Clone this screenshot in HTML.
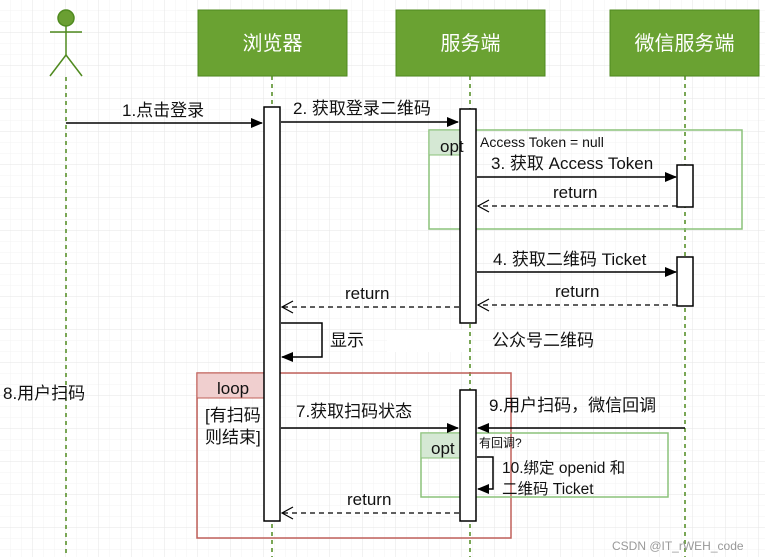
<!DOCTYPE html>
<html><head><meta charset="utf-8"><style>
html,body{margin:0;padding:0;background:#fff;}
svg{display:block;}
text{font-family:"Liberation Sans","Noto Sans CJK SC",sans-serif;fill:#111;}
</style></head><body>
<svg width="765" height="557" viewBox="0 0 765 557" xmlns="http://www.w3.org/2000/svg">
<defs>
<pattern id="minor" width="11" height="11" patternUnits="userSpaceOnUse"><path d="M11 0V11H0" fill="none" stroke="#f3f3f3" stroke-width="1"/></pattern>
<pattern id="major" width="33" height="33" patternUnits="userSpaceOnUse"><rect width="33" height="33" fill="url(#minor)"/><path d="M33 0V33H0" fill="none" stroke="#e5e5e5" stroke-width="1"/></pattern>
<marker id="af" markerWidth="12" markerHeight="10" refX="11" refY="5" orient="auto" markerUnits="userSpaceOnUse"><path d="M0,0L12,5L0,10z" fill="#000"/></marker>
<marker id="ao" markerWidth="13" markerHeight="14" refX="12" refY="7" orient="auto" markerUnits="userSpaceOnUse"><path d="M1,1L12,7L1,13" fill="none" stroke="#000" stroke-width="1.2"/></marker>
</defs>
<rect width="765" height="557" fill="url(#major)"/>

<g stroke="#4f8a1f" stroke-width="1.5" stroke-dasharray="4,4">
<line x1="66" y1="77" x2="66" y2="557"/>
<line x1="272" y1="76" x2="272" y2="557"/>
<line x1="470" y1="76" x2="470" y2="557"/>
<line x1="685" y1="76" x2="685" y2="557"/>
</g>

<g stroke="#4f8a1f" stroke-width="1.5" fill="none">
<circle cx="66" cy="18" r="8" fill="#6a9f32"/>
<line x1="66" y1="26" x2="66" y2="55"/>
<line x1="50" y1="32" x2="82" y2="32"/>
<line x1="66" y1="55" x2="50" y2="76"/>
<line x1="66" y1="55" x2="82" y2="76"/>
</g>

<g fill="#6aa232" stroke="#4f8a1f" stroke-width="1">
<rect x="198" y="10" width="149" height="66"/>
<rect x="396" y="10" width="149" height="66"/>
<rect x="610" y="10" width="149" height="66"/>
</g>
<g font-size="20" text-anchor="middle">
<text x="272.5" y="50" style="fill:#fff">浏览器</text>
<text x="470.5" y="50" style="fill:#fff">服务端</text>
<text x="684.5" y="50" style="fill:#fff">微信服务端</text>
</g>

<rect x="429" y="130" width="313" height="99" fill="none" stroke="#8bc27a" stroke-width="1.5"/>
<path d="M429,130H476L468,155H429z" fill="#d5e8d4" stroke="#8bc27a" stroke-width="1"/>
<text x="480" y="147" font-size="14">Access Token = null</text>

<rect x="197" y="373" width="314" height="165" fill="none" stroke="#c0605a" stroke-width="1.5"/>
<path d="M197,373H272L264,398H197z" fill="#f0cfcf" stroke="#c0605a" stroke-width="1"/>
<text x="205" y="421" font-size="17">[有扫码</text>
<text x="205" y="443" font-size="17">则结束]</text>

<rect x="421" y="433" width="247" height="64" fill="none" stroke="#8bc27a" stroke-width="1.5"/>
<path d="M421,433H470L462,458H421z" fill="#d5e8d4" stroke="#8bc27a" stroke-width="1"/>

<g fill="#fff" stroke="#000" stroke-width="1.5">
<rect x="264" y="107" width="16" height="414"/>
<rect x="460" y="109" width="16" height="214"/>
<rect x="460" y="390" width="16" height="131"/>
<rect x="677" y="165" width="16" height="42"/>
<rect x="677" y="257" width="16" height="49"/>
</g>

<text x="440" y="152" font-size="17">opt</text>
<text x="217" y="394" font-size="17">loop</text>
<text x="431" y="454" font-size="17">opt</text>
<text x="479" y="447" font-size="12">有回调?</text>

<g stroke="#000" stroke-width="1.5" fill="none">
<line x1="66" y1="123" x2="262" y2="123" marker-end="url(#af)"/>
<line x1="281" y1="122" x2="458" y2="122" marker-end="url(#af)"/>
<line x1="477" y1="177" x2="676" y2="177" marker-end="url(#af)"/>
<line x1="677" y1="206" x2="478" y2="206" stroke-dasharray="5,4" marker-end="url(#ao)" stroke-width="1.2"/>
<line x1="477" y1="272" x2="676" y2="272" marker-end="url(#af)"/>
<line x1="677" y1="305" x2="478" y2="305" stroke-dasharray="5,4" marker-end="url(#ao)" stroke-width="1.2"/>
<line x1="459" y1="307" x2="282" y2="307" stroke-dasharray="5,4" marker-end="url(#ao)" stroke-width="1.2"/>
<polyline points="281,323 322,323 322,357 282,357" marker-end="url(#af)"/>
<line x1="281" y1="428" x2="458" y2="428" marker-end="url(#af)"/>
<line x1="685" y1="428" x2="478" y2="428" marker-end="url(#af)"/>
<polyline points="477,457 493,457 493,489 478,489" marker-end="url(#af)"/>
<line x1="459" y1="513" x2="282" y2="513" stroke-dasharray="5,4" marker-end="url(#ao)" stroke-width="1.2"/>
</g>

<rect x="387" y="330" width="82" height="22" fill="#fff"/>

<g font-size="17">
<text x="122" y="116">1.点击登录</text>
<text x="293" y="114">2. 获取登录二维码</text>
<text x="491" y="169">3. 获取 Access Token</text>
<text x="553" y="198">return</text>
<text x="493" y="265">4. 获取二维码 Ticket</text>
<text x="555" y="297">return</text>
<text x="345" y="299">return</text>
<text x="330" y="346">显示</text>
<text x="492" y="346">公众号二维码</text>
<text x="3" y="399">8.用户扫码</text>
<text x="296" y="417">7.获取扫码状态</text>
<text x="489" y="411">9.用户扫码，微信回调</text>
<text x="502" y="473" font-size="15.5">10.绑定 openid 和</text>
<text x="502" y="494" font-size="15.5">二维码 Ticket</text>
<text x="347" y="505">return</text>
</g>
<text x="612" y="550" font-size="12" style="fill:#999">CSDN @IT_rWEH_code</text>
</svg>
</body></html>
